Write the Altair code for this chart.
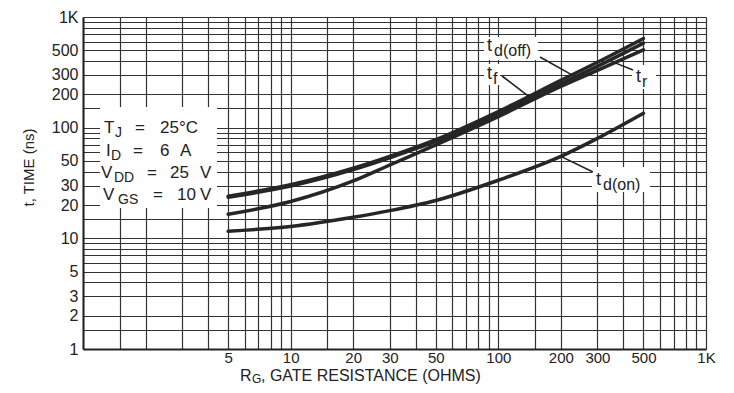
import altair as alt
import pandas as pd

# ---------------- data ----------------
rg = [5, 10, 20, 30, 50, 100, 200, 300, 500]
td_off = [24, 30.5, 43, 55, 78, 140, 268, 390, 640]
t_f = [23.5, 29.7, 41.8, 53.5, 75, 132, 250, 358, 580]
t_r = [16.5, 21.5, 33, 46, 70, 126, 236, 330, 505]
td_on = [11.6, 12.8, 15.5, 17.8, 22, 33.5, 55, 80, 135]
series_names = ["td(off)", "tf", "tr", "td(on)"]
series_vals = [td_off, t_f, t_r, td_on]

grid_mult = [1, 1.5, 2, 3, 4, 5, 6, 7, 8, 9]
y_label_vals = [1, 2, 3, 5, 10, 20, 30, 50, 100, 200, 300, 500]
x_label_vals = [5, 10, 20, 30, 50, 100, 200, 300, 500]

W, H = 623, 332
LEFT, TOP = 83, 17  # page position of the plot's top-left corner
FONT = "Liberation Sans"
INK = "#222222"


def xd(px):
    return 10 ** (3 * (px - LEFT) / W)


def yd(py):
    return 10 ** (3 * (1 - (py - TOP) / H))


grid_vals = [m * 10 ** e for e in range(3) for m in grid_mult] + [1000]

curves = pd.DataFrame(
    [
        {"x": x, "y": v, "series": name}
        for name, vals in zip(series_names, series_vals)
        for x, v in zip(rg, vals)
    ]
)

# annotation text pieces: (text, page x, page y, size)
pieces = [
    # conditions box
    ("T", 104, 128, 17), ("J", 115, 133, 14), ("=", 135, 128, 17), ("25°C", 160, 128, 17),
    ("I", 106, 151, 17), ("D", 111, 156, 14), ("=", 133, 151, 17), ("6", 160, 151, 17), ("A", 180, 151, 17),
    ("V", 101, 173, 17), ("DD", 114, 178, 14), ("=", 147, 173, 17), ("25", 170, 173, 17), ("V", 200, 173, 17),
    ("V", 103, 195, 17), ("GS", 118, 200, 14), ("=", 153, 195, 17), ("10", 177, 195, 17), ("V", 200, 195, 17),
    # curve labels
    ("t", 487, 46, 18), ("d(off)", 494, 51, 16),
    ("t", 487, 74, 18), ("f", 493, 79, 16),
    ("t", 636, 77, 18), ("r", 642, 82, 16),
    ("t", 596, 180, 18), ("d(on)", 603, 185, 16),
    # x title
    ("R", 240, 376, 16), ("G", 252, 379, 12), (", GATE RESISTANCE (OHMS)", 261, 376, 16),
]
texts = pd.DataFrame(
    [{"x": xd(px), "y": yd(py), "text": t, "size": s} for t, px, py, s in pieces]
)

boxes = pd.DataFrame(
    [
        {"x": xd(a), "x2": xd(b), "y": yd(c), "y2": yd(d)}
        for a, b, c, d in [
            (100, 217, 107, 208),
            (484, 538, 37, 60),
            (484, 500, 64, 85),
            (632, 656, 65, 89),
            (592, 650, 167, 192),
        ]
    ]
)

pointers = pd.DataFrame(
    [
        {"x": xd(540), "y": yd(57), "x2": 226, "y2": 300},
        {"x": xd(502), "y": yd(76), "x2": 142, "y2": 188},
        {"x": xd(633), "y": yd(70), "x2": 365, "y2": 385},
        {"x": xd(593), "y": yd(172), "x2": 200, "y2": 55},
    ]
)

label_common = dict(
    values=grid_vals,
    grid=True,
    gridColor="#333333",
    gridWidth=1.2,
    gridOpacity=1,
    ticks=False,
    domain=True,
    domainColor=INK,
    domainWidth=2,
    labelFont=FONT,
    labelColor=INK,
    labelOverlap=False,
    labelFlush=False,
    labelBound=False,
)

x_axis = alt.Axis(
    title=None,
    labelPadding=1,
    labelFontSize=15,
    labelExpr=(
        "datum.value == 1000 ? '1K' : (indexof(" + str(x_label_vals)
        + ", datum.value) >= 0 ? format(datum.value, 'd') : '')"
    ),
    **label_common,
)
y_axis = alt.Axis(
    title="t, TIME (ns)",
    titleFont=FONT,
    titleFontSize=15,
    titleFontWeight="normal",
    titleColor=INK,
    titleX=-55,
    titleY=150,
    titleAlign="center",
    titleBaseline="middle",
    labelPadding=5,
    labelFontSize=16,
    labelExpr=(
        "datum.value == 1000 ? '1K' : (indexof(" + str(y_label_vals)
        + ", datum.value) >= 0 ? format(datum.value, 'd') : '')"
    ),
    **label_common,
)

xs = alt.Scale(type="log", domain=[1, 1000], nice=False)
ys = alt.Scale(type="log", domain=[1, 1000], nice=False)
X = alt.X("x:Q", scale=xs, axis=x_axis)
Y = alt.Y("y:Q", scale=ys, axis=y_axis)

rects = alt.Chart(boxes).mark_rect(color="white").encode(
    x=X, x2="x2:Q", y=Y, y2="y2:Q"
)
lines = alt.Chart(curves).mark_line(
    interpolate="monotone", strokeWidth=3.5, color="#262626", strokeCap="round"
).encode(x=X, y=Y, detail="series:N")
rules = alt.Chart(pointers).mark_rule(strokeWidth=1.6, color=INK).encode(
    x=X, y=Y, x2="x2:Q", y2="y2:Q"
)
labels = alt.Chart(texts).mark_text(
    align="left", baseline="middle", font=FONT, color=INK
).encode(x=X, y=Y, text="text:N", size=alt.Size("size:Q", scale=None, legend=None))

chart = (
    alt.layer(rects, lines, rules, labels)
    .properties(
        width=W,
        height=H,
        autosize=alt.AutoSizeParams(type="none"),
        padding={"left": LEFT - 8, "top": TOP - 8, "right": 12, "bottom": 36},
        background="white",
    )
    .configure_view(stroke=None)
)

chart.save("out.html", embed_options={"renderer": "svg", "actions": False})
